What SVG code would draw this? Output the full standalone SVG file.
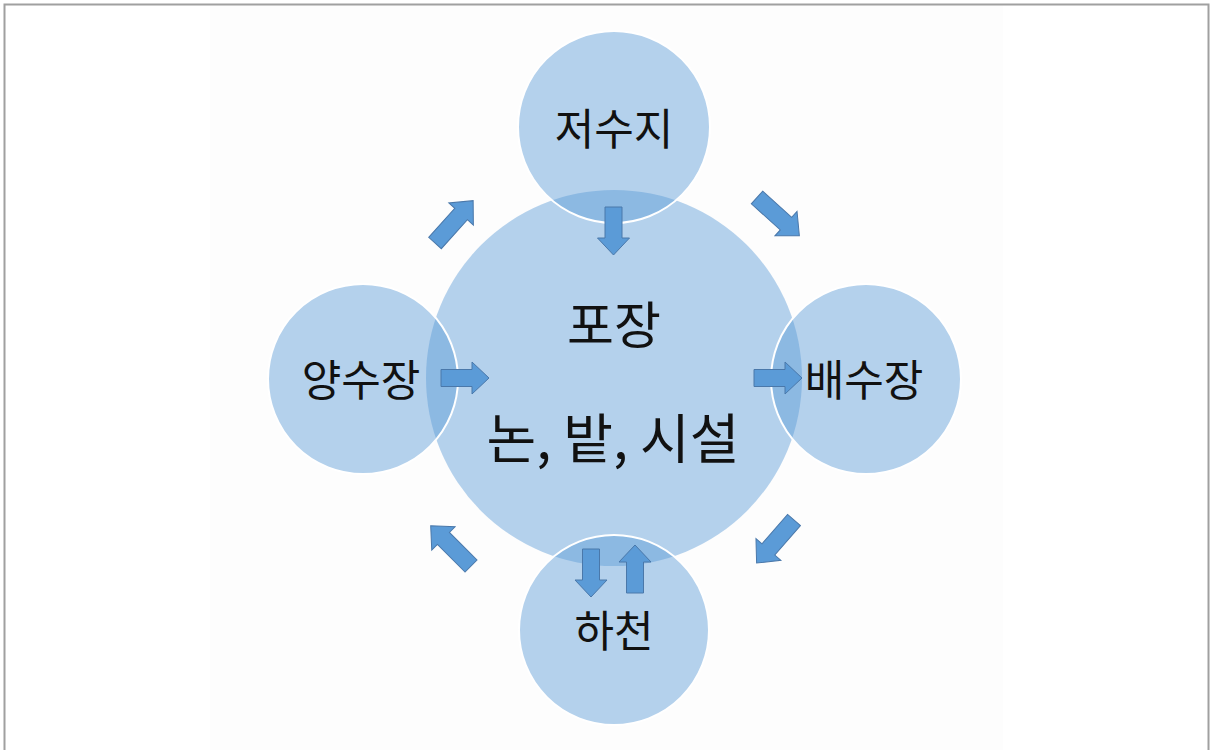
<svg xmlns="http://www.w3.org/2000/svg" xmlns:xlink="http://www.w3.org/1999/xlink" width="1211" height="750" viewBox="0 0 1211 750">
<style>
.c{fill:#5a9bd8;fill-opacity:0.45}
.s{stroke:#ffffff;stroke-width:2}
.a{fill:#5b9bd7;stroke:#4a78aa;stroke-width:1}
.t{font-family:"Noto Sans CJK KR","Noto Sans",sans-serif;fill:#111111;text-anchor:middle}
</style>
<defs>
<path id="arS" d="M0,-8.5 H31 V-16 L48,0 L31,16 V8.5 H0 Z"/>
<path id="arL" d="M0,-8.5 H39 V-16.5 L57,0 L39,16.5 V8.5 H0 Z"/>
</defs>
<rect x="0" y="0" width="1211" height="750" fill="#ffffff"/>
<rect x="210" y="5" width="793" height="745" fill="#fdfdfd"/>
<rect x="4.5" y="4.5" width="1204" height="750" fill="none" stroke="#a0a0a0" stroke-width="2"/>
<g id="center"><circle class="c" cx="614" cy="378" r="188"/></g>
<g id="top"><circle class="c s" cx="614" cy="127" r="96"/><text class="t" x="614" y="145" font-size="43">저수지</text></g>
<g id="left"><circle class="c s" cx="363" cy="379" r="95"/><text class="t" x="361" y="396" font-size="43">양수장</text></g>
<g id="right"><circle class="c s" cx="866" cy="379" r="95"/><text class="t" x="864" y="396" font-size="43">배수장</text></g>
<g id="bottom"><circle class="c s" cx="614" cy="630" r="95"/><text class="t" x="614" y="647" font-size="43">하천</text></g>
<g id="centerText"><text class="t" x="614" y="344" font-size="51">포장</text><text class="t" x="613" y="459" font-size="54">논, 밭, 시설</text></g>
<g id="connectors">
<use xlink:href="#arS" class="a" transform="translate(613.5,207) rotate(90)"/>
<use xlink:href="#arS" class="a" transform="translate(441,378)"/>
<use xlink:href="#arS" class="a" transform="translate(754,378)"/>
<use xlink:href="#arS" class="a" transform="translate(591,549) rotate(90)"/>
<use xlink:href="#arS" class="a" transform="translate(635,593) rotate(-90)"/>
<use xlink:href="#arL" class="a" transform="translate(435,243) rotate(-48)"/>
<use xlink:href="#arL" class="a" transform="translate(757,197.5) rotate(42)"/>
<use xlink:href="#arL" class="a" transform="translate(794,520) rotate(131)"/>
<use xlink:href="#arL" class="a" transform="translate(471,566) rotate(-135)"/>
</g>
</svg>
